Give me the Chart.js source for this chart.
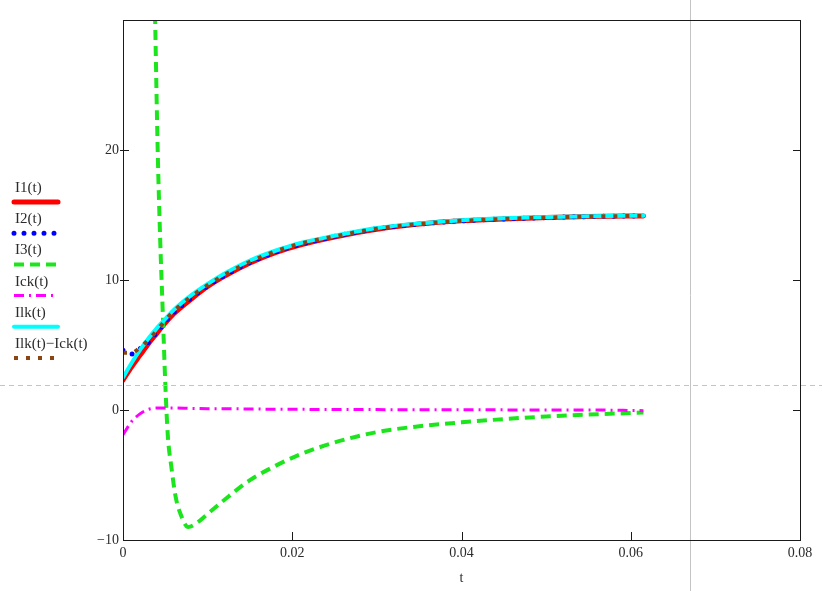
<!DOCTYPE html>
<html lang="en">
<head>
<meta charset="UTF-8">
<title>I1(t), I2(t), I3(t), Ick(t), Ilk(t)</title>
<script src="https://cdn.jsdelivr.net/npm/chart.js@4.4.1/dist/chart.umd.min.js"></script>
<style>
    body { margin: 0; background: #fff; }
    #wrap { width: 822px; height: 591px; }
</style>
</head>
<body>
<div id="wrap"><canvas id="chart" width="822" height="591"></canvas></div>
<script>
// sample times for the smooth currents
const tVals = [0, 0.001, 0.002, 0.003, 0.004, 0.005, 0.006, 0.008, 0.010, 0.012, 0.015,
               0.018, 0.021, 0.025, 0.030, 0.035, 0.040, 0.045, 0.050, 0.055, 0.0615];
const i1Vals = [2.3, 3.3, 4.2, 5.1, 5.9, 6.7, 7.4, 8.5, 9.5, 10.3, 11.3,
                12.1, 12.7, 13.3, 13.9, 14.3, 14.55, 14.7, 14.8, 14.88, 14.93];
const i2Vals = [4.6, 4.3, 4.7, 5.2, 6.0, 6.8, 7.5, 8.6, 9.55, 10.35, 11.35,
                12.15, 12.75, 13.35, 13.95, 14.3, 14.55, 14.7, 14.8, 14.88, 14.93];
const ickVals = [-1.9, -0.9, -0.3, 0.05, 0.15, 0.15, 0.15, 0.12, 0.1, 0.1, 0.08,
                 0.06, 0.05, 0.04, 0.03, 0.02, 0.02, 0.01, 0.0, 0.0, -0.05];
const ilkVals = [2.5, 3.6, 4.6, 5.5, 6.3, 7.0, 7.7, 8.8, 9.7, 10.5, 11.5,
                 12.25, 12.85, 13.4, 14.0, 14.35, 14.6, 14.75, 14.85, 14.9, 14.95];
const ilkMinusIckVals = [4.4, 4.4, 4.8, 5.4, 6.1, 6.9, 7.6, 8.7, 9.6, 10.4, 11.4,
                         12.2, 12.8, 13.35, 13.95, 14.3, 14.55, 14.7, 14.8, 14.88, 14.93];

// I3 has its own sample times (very steep near t = 0.004)
const t3Vals = [0.0030, 0.0038, 0.0041, 0.0044, 0.0047, 0.0050, 0.0053, 0.0057, 0.0062, 0.0068,
                0.0077, 0.0087, 0.0100, 0.0120, 0.0150, 0.0180, 0.0210, 0.0250, 0.0300, 0.0350,
                0.0400, 0.0450, 0.0500, 0.0550, 0.0615];
const i3Vals = [60, 30, 20, 13, 7.5, 2, -2, -4.3, -6.6, -8.0,
                -9.0, -8.7, -8.0, -6.9, -5.4, -4.3, -3.4, -2.5, -1.7, -1.25,
                -0.95, -0.7, -0.5, -0.35, -0.2];

const xTicks = [0, 0.02, 0.04, 0.06, 0.08];
const yTicks = [-10, 0, 10, 20];
const markerT = 0.067;
const markerY = 1.9;

const traceNames = ['I1(t)', 'I2(t)', 'I3(t)', 'Ick(t)', 'Ilk(t)', 'Ilk(t)\u2212Ick(t)'];

function pts(xs, ys) {
    return xs.map((x, i) => ({ x: x, y: ys[i] }));
}

const serif = '"Liberation Serif", "Times New Roman", serif';
const textColor = '#2b2b2b';

const datasets = [
    { label: traceNames[0], data: pts(tVals, i1Vals), borderColor: '#ff0000', borderWidth: 5,
      borderDash: [], borderCapStyle: 'round', order: 6 },
    { label: traceNames[1], data: pts(tVals, i2Vals), borderColor: '#0000ff', borderWidth: 5,
      borderDash: [0, 10], borderCapStyle: 'round', order: 5 },
    { label: traceNames[2], data: pts(t3Vals, i3Vals), borderColor: '#1de51d', borderWidth: 4,
      borderDash: [10, 6], borderCapStyle: 'butt', order: 4 },
    { label: traceNames[3], data: pts(tVals, ickVals), borderColor: '#ff00ff', borderWidth: 3,
      borderDash: [10, 5, 2, 5], borderCapStyle: 'butt', order: 3 },
    { label: traceNames[4], data: pts(tVals, ilkVals), borderColor: '#00ffff', borderWidth: 4,
      borderDash: [], borderCapStyle: 'round', order: 2 },
    { label: traceNames[5], data: pts(tVals, ilkMinusIckVals), borderColor: '#8b4513', borderWidth: 4,
      borderDash: [4, 8], borderCapStyle: 'butt', order: 1 }
];
datasets.forEach(ds => {
    ds.pointRadius = 0;
    ds.fill = false;
    ds.cubicInterpolationMode = 'monotone';
});

const framePlugin = {
    id: 'frame',
    afterDatasetsDraw(chart) {
        const { ctx, chartArea: a, scales: { x, y } } = chart;
        ctx.save();

        // trace markers (gray)
        ctx.strokeStyle = '#c4c4c4';
        ctx.lineWidth = 1;
        const mx = Math.round(x.getPixelForValue(markerT)) + 0.5;
        ctx.beginPath(); ctx.moveTo(mx, 0); ctx.lineTo(mx, chart.height); ctx.stroke();
        ctx.setLineDash([5, 4]);
        const my = Math.round(y.getPixelForValue(markerY)) + 0.5;
        ctx.beginPath(); ctx.moveTo(0, my); ctx.lineTo(chart.width, my); ctx.stroke();
        ctx.setLineDash([]);

        // box
        ctx.strokeStyle = '#1a1a1a';
        ctx.lineWidth = 1;
        ctx.strokeRect(a.left + 0.5, a.top + 0.5, a.right - a.left, a.bottom - a.top);

        // inner ticks
        ctx.beginPath();
        yTicks.forEach(v => {
            if (v === y.min) return;
            const py = Math.round(y.getPixelForValue(v)) + 0.5;
            ctx.moveTo(a.left - 3, py); ctx.lineTo(a.left + 6, py);
            ctx.moveTo(a.right - 7, py); ctx.lineTo(a.right, py);
        });
        xTicks.forEach(v => {
            if (v === x.min || v === x.max) return;
            const px = Math.round(x.getPixelForValue(v)) + 0.5;
            ctx.moveTo(px, a.bottom - 8); ctx.lineTo(px, a.bottom);
        });
        ctx.stroke();

        // axis title
        ctx.fillStyle = textColor;
        ctx.font = '14px ' + serif;
        ctx.textAlign = 'center';
        ctx.textBaseline = 'middle';
        ctx.fillText('t', (a.left + a.right) / 2, 578);

        // legend, Mathcad style: name above a line sample
        ctx.textAlign = 'left';
        ctx.font = '15px ' + serif;
        chart.data.datasets.forEach((ds, i) => {
            const ty = 188 + i * 31.2;
            ctx.fillStyle = textColor;
            ctx.fillText(ds.label, 15, ty);
            ctx.strokeStyle = ds.borderColor;
            ctx.lineWidth = ds.borderWidth;
            ctx.lineCap = ds.borderCapStyle;
            ctx.setLineDash(ds.borderDash);
            ctx.beginPath();
            ctx.moveTo(14, ty + 14);
            ctx.lineTo(58, ty + 14);
            ctx.stroke();
        });
        ctx.restore();
    }
};

new Chart(document.getElementById('chart').getContext('2d'), {
    type: 'line',
    data: { datasets: datasets },
    options: {
        responsive: false,
        animation: false,
        layout: { padding: { left: 0, right: 22, top: 20, bottom: 0 } },
        plugins: { legend: { display: false }, tooltip: { enabled: false } },
        scales: {
            x: {
                type: 'linear', min: 0, max: 0.08,
                grid: { display: false, drawTicks: false },
                border: { display: false },
                afterFit: s => { s.height = 51; },
                ticks: {
                    stepSize: 0.02, padding: 5, color: textColor,
                    font: { family: serif, size: 14 },
                    maxRotation: 0,
                    callback: v => Number(v.toFixed(2)).toString()
                }
            },
            y: {
                type: 'linear', min: -10, max: 30,
                grid: { display: false, drawTicks: false },
                border: { display: false },
                afterFit: s => { s.width = 123; },
                ticks: {
                    stepSize: 10, padding: 4, color: textColor,
                    font: { family: serif, size: 14 },
                    callback: v => v === 30 ? '' : (v < 0 ? '\u2212' + Math.abs(v) : String(v))
                }
            }
        }
    },
    plugins: [framePlugin]
});
</script>
</body>
</html>
